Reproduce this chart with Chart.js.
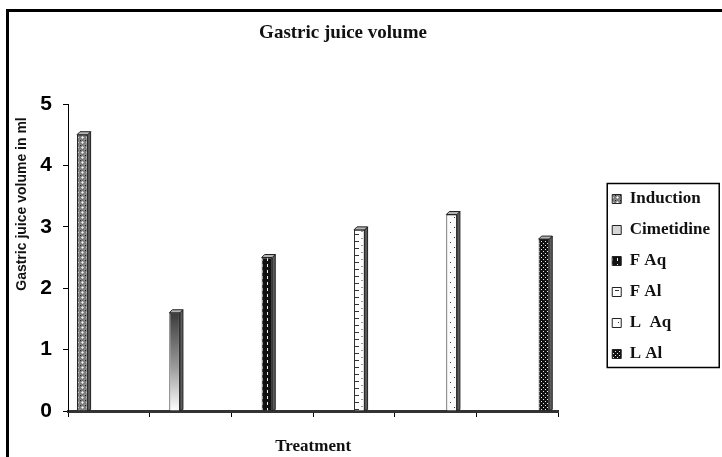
<!DOCTYPE html>
<html>
<head>
<meta charset="utf-8">
<script src="https://cdn.jsdelivr.net/npm/chart.js@4/dist/chart.umd.min.js"></script>
<style>
  html, body { margin: 0; padding: 0; background: #fff; }
  #wrap { position: relative; width: 722px; height: 457px; overflow: hidden; }
  #frame { position: absolute; left: 6px; top: 9px; width: 760px; height: 500px; border: 3px solid #000; pointer-events: none; }
  canvas { position: absolute; left: 0; top: 0; }
</style>
</head>
<body>
<div id="wrap">
  <canvas id="c" width="722" height="457"></canvas>
  <div id="frame"></div>
</div>
<script>
// Treatment groups (one column slot each) and their gastric juice volumes (ml)
const categories = ['', '', '', '', '', ''];
const seriesNames = ['Induction', 'Cimetidine', 'F Aq', 'F Al', 'L  Aq', 'L Al'];
const seriesValues = [4.5, 1.6, 2.5, 2.95, 3.2, 2.8];
const yTicks = [0, 1, 2, 3, 4, 5];

const canvas = document.getElementById('c');
const mainCtx = canvas.getContext('2d');

// Small tiled fills for the hatched columns
function tile(w, h, paint) {
  const c = document.createElement('canvas');
  c.width = w; c.height = h;
  const g = c.getContext('2d');
  paint(g);
  return mainCtx.createPattern(c, 'repeat');
}

const patInduction = tile(5, 5, g => {
  g.fillStyle = '#8a8a8a'; g.fillRect(0, 0, 5, 5);
  g.fillStyle = '#f4f4f4'; g.beginPath(); g.arc(2.5, 2.5, 1.7, 0, Math.PI * 2); g.fill();
  g.strokeStyle = '#444'; g.lineWidth = 0.7; g.stroke();
  g.fillStyle = '#222'; g.fillRect(0, 0, 1, 1);
});
const patFAq = tile(5, 6, g => {
  g.fillStyle = '#111'; g.fillRect(0, 0, 5, 6);
  g.fillStyle = '#f2f2f2'; g.fillRect(2, 0, 1, 3);
});
const patFAl = tile(10, 7, g => {
  g.fillStyle = '#fff'; g.fillRect(0, 0, 10, 7);
  g.fillStyle = '#333'; g.fillRect(5, 3, 4, 1);
  g.fillStyle = '#999'; g.fillRect(1, 0, 2, 1);
});
const patLAq = tile(8, 10, g => {
  g.fillStyle = '#fbfbfb'; g.fillRect(0, 0, 8, 10);
  g.fillStyle = '#333'; g.fillRect(2, 2, 1, 1); g.fillRect(6, 7, 1, 1);
});
const patLAl = tile(4, 4, g => {
  g.fillStyle = '#111'; g.fillRect(0, 0, 4, 4);
  g.fillStyle = '#e8e8e8'; g.fillRect(1, 1, 1, 1); g.fillRect(3, 3, 1, 1);
});

// Cimetidine column: dark at the top fading to white at the floor
function cimetidineFill(context) {
  const chart = context.chart;
  const ys = chart.scales && chart.scales.y;
  if (!ys || !chart.chartArea) return '#9a9a9a';
  const top = ys.getPixelForValue(seriesValues[1]);
  const bottom = ys.getPixelForValue(0);
  const g = chart.ctx.createLinearGradient(0, top, 0, bottom);
  g.addColorStop(0, '#3a3a3a');
  g.addColorStop(0.55, '#9a9a9a');
  g.addColorStop(1, '#ffffff');
  return g;
}

const fills = [patInduction, cimetidineFill, patFAq, patFAl, patLAq, patLAl];
const legendFills = [patInduction, '#d6d6d6', patFAq, patFAl, patLAq, patLAl];

const datasets = seriesNames.map((name, i) => ({
  label: name,
  data: categories.map((_, j) => (j === i ? seriesValues[i] : null)),
  backgroundColor: fills[i],
  borderColor: '#222',
  borderWidth: 1,
  borderSkipped: 'bottom',
  categoryPercentage: 0.78,
  barPercentage: 1.0
}));

// Depth faces on the right side and top of each column
const depthPlugin = {
  id: 'depth',
  afterDatasetsDraw(chart) {
    const ctx = chart.ctx;
    const d = 3;
    chart.data.datasets.forEach((ds, i) => {
      const meta = chart.getDatasetMeta(i);
      meta.data.forEach((bar, j) => {
        if (ds.data[j] == null) return;
        const p = bar.getProps(['x', 'y', 'base', 'width'], true);
        const l = p.x - p.width / 2, r = p.x + p.width / 2;
        ctx.save();
        ctx.lineWidth = 1;
        ctx.strokeStyle = '#222';
        ctx.fillStyle = '#5c5c5c';
        ctx.beginPath();
        ctx.moveTo(r, p.y); ctx.lineTo(r + d, p.y - d); ctx.lineTo(r + d, p.base - 1); ctx.lineTo(r, p.base);
        ctx.closePath(); ctx.fill(); ctx.stroke();
        ctx.fillStyle = '#b5b5b5';
        ctx.beginPath();
        ctx.moveTo(l, p.y); ctx.lineTo(l + d, p.y - d); ctx.lineTo(r + d, p.y - d); ctx.lineTo(r, p.y);
        ctx.closePath(); ctx.fill(); ctx.stroke();
        ctx.restore();
      });
    });
  }
};

// Legend placement near the right edge and its box
const legendBoxPlugin = {
  id: 'legendBox',
  afterLayout(chart) {
    const lg = chart.legend;
    if (!lg) return;
    lg.left += 40; lg.right += 40;
    lg.top -= 4; lg.bottom -= 4;
  },
  afterDraw(chart) {
    const lg = chart.legend;
    if (!lg || !lg.columnSizes) return;
    const pad = lg.options.labels.padding;
    const colH = lg.columnSizes[0].height;
    const itemsTop = (lg.top + pad + lg.bottom - colH) / 2;
    const itemX = lg.left + pad;
    const ctx = chart.ctx;
    ctx.save();
    ctx.strokeStyle = '#000';
    ctx.lineWidth = 1.5;
    ctx.strokeRect(itemX - 5, itemsTop - 7, 112, colH - pad + 12);
    ctx.restore();
  }
};

// Chart heading and the vertical axis caption
const captionsPlugin = {
  id: 'captions',
  afterDraw(chart) {
    const ctx = chart.ctx;
    ctx.save();
    ctx.fillStyle = '#111';
    ctx.textAlign = 'center';
    ctx.textBaseline = 'middle';
    ctx.font = 'bold 19px "Liberation Serif", "Times New Roman", serif';
    ctx.fillText('Gastric juice volume', 343, 33);
    ctx.translate(22, 204);
    ctx.rotate(-Math.PI / 2);
    ctx.font = 'bold 14px "Liberation Sans", Arial, sans-serif';
    ctx.fillText('Gastric juice volume in ml', 0, 0);
    ctx.restore();
  }
};

new Chart(canvas, {
  type: 'bar',
  data: { labels: categories, datasets },
  plugins: [depthPlugin, legendBoxPlugin, captionsPlugin],
  options: {
    responsive: false,
    animation: false,
    devicePixelRatio: 1,
    layout: { padding: { top: 104, left: 0, right: 42, bottom: 0 } },
    plugins: {
      title: { display: false },
      tooltip: { enabled: false },
      legend: {
        position: 'right',
        align: 'center',
        labels: {
          boxWidth: 9,
          boxHeight: 9,
          padding: 14,
          color: '#111',
          font: { family: '"Liberation Serif", "Times New Roman", serif', size: 17, weight: 'bold' },
          generateLabels(chart) {
            const items = Chart.defaults.plugins.legend.labels.generateLabels(chart);
            items.forEach((it, i) => {
              it.fillStyle = legendFills[i];
              it.strokeStyle = '#222';
              it.lineWidth = 1;
            });
            return items;
          }
        }
      }
    },
    scales: {
      x: {
        grid: { display: true, drawOnChartArea: false, offset: true, tickLength: 6, color: '#000', lineWidth: 1 },
        border: { display: true, color: '#333', width: 3 },
        ticks: { display: true, padding: 0 },
        title: {
          display: true,
          text: 'Treatment',
          color: '#111',
          padding: { top: 0, bottom: 0 },
          font: { family: '"Liberation Serif", "Times New Roman", serif', size: 17, weight: 'bold' }
        },
        afterFit(scale) { scale.height = 46; }
      },
      y: {
        min: yTicks[0],
        max: yTicks[yTicks.length - 1],
        afterBuildTicks(scale) { scale.ticks = yTicks.map(v => ({ value: v })); },
        grid: { display: true, drawOnChartArea: false, tickLength: 5, color: '#000', lineWidth: 1 },
        border: { display: true, color: '#000', width: 1 },
        ticks: {
          padding: 11,
          color: '#000',
          font: { family: '"Liberation Sans", Arial, sans-serif', size: 21, weight: 'bold' }
        },
        afterFit(scale) { scale.width = 68; }
      }
    }
  }
});
</script>
</body>
</html>
